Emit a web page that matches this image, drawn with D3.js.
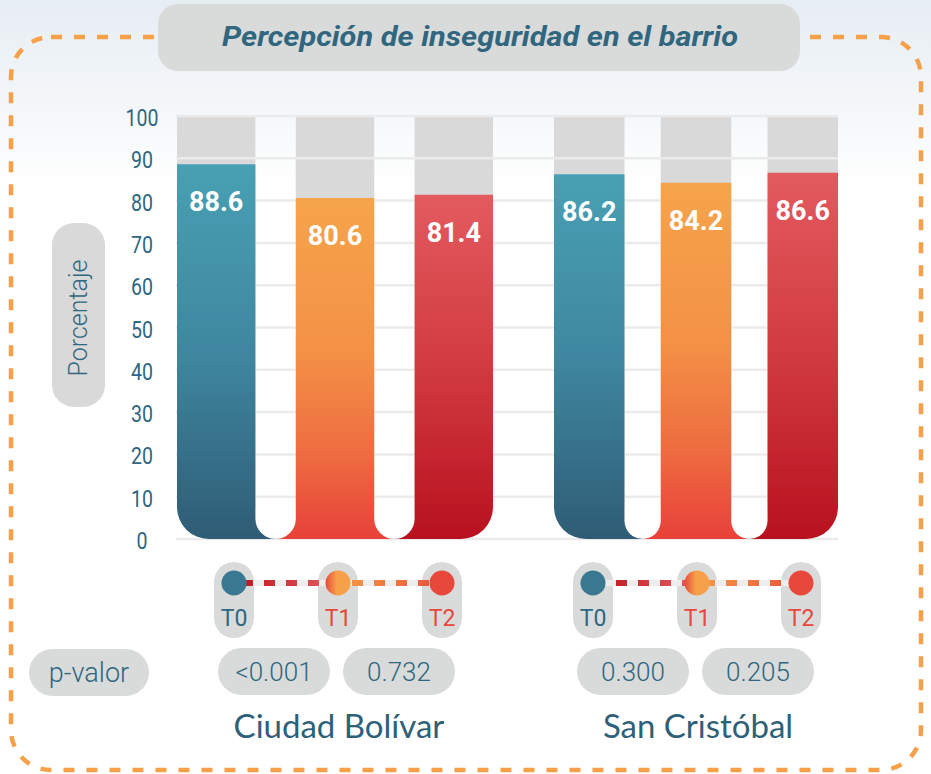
<!DOCTYPE html>
<html>
<head>
<meta charset="utf-8">
<script src="https://cdn.jsdelivr.net/npm/d3@7"></script>
<style>
  html, body { margin: 0; padding: 0; background: #fff; }
  svg { display: block; }
</style>
</head>
<body>
<div id="chart"></div>
<script>
// data
let groups = ["Ciudad Bolívar", "San Cristóbal"];
let periods = ["T0", "T1", "T2"];
let valuesBolivar = [88.6, 80.6, 81.4];
let valuesCristobal = [86.2, 84.2, 86.6];
let pBolivar = ["<0.001", "0.732"];
let pCristobal = ["0.300", "0.205"];
let yTicks = [0, 10, 20, 30, 40, 50, 60, 70, 80, 90, 100];

let title_text = "Percepción de inseguridad en el barrio";
let yLabel = "Porcentaje";

let width = 931, height = 774;
let dark = "#2f6680";
let red = "#e8473b";

let svg = d3.select("#chart").append("svg")
  .attr("width", width)
  .attr("height", height);

let defs = svg.append("defs");

function linGrad(id, stops, horizontal) {
  let g = defs.append("linearGradient").attr("id", id)
    .attr("x1", 0).attr("y1", 0)
    .attr("x2", horizontal ? 1 : 0).attr("y2", horizontal ? 0 : 1);
  stops.forEach(s => g.append("stop").attr("offset", s[0]).attr("stop-color", s[1]));
}

linGrad("bg", [[0, "#e6edf3"], [1, "#ffffff"]]);
linGrad("gT0", [[0, "#48a0b3"], [0.5, "#3f87a0"], [1, "#2f5c75"]]);
linGrad("gT1", [[0, "#f6a44b"], [0.45, "#f39146"], [0.75, "#ee6c40"], [1, "#e8403a"]]);
linGrad("gT2", [[0, "#e35b5f"], [0.5, "#d13a40"], [1, "#b8111f"]]);
linGrad("lineL", [[0, "#c01b26"], [1, "#e0565b"]], true);
linGrad("lineR", [[0, "#f39447"], [1, "#ea5a3c"]], true);
linGrad("dotT1", [[0, "#e84a3c"], [0.45, "#f6a04a"], [1, "#f6a04a"]], true);

// background
svg.append("rect")
  .attr("width", width).attr("height", 190)
  .attr("fill", "url(#bg)");

// dashed frame
svg.append("rect")
  .attr("x", 11).attr("y", 37)
  .attr("width", 910).attr("height", 733)
  .attr("rx", 40)
  .attr("fill", "none")
  .attr("stroke", "#f6a04a")
  .attr("stroke-width", 4.5)
  .attr("stroke-dasharray", "11,12");

// title
svg.append("rect")
  .attr("x", 158).attr("y", 4)
  .attr("width", 642).attr("height", 67)
  .attr("rx", 20)
  .attr("fill", "#d9dbda");

svg.append("text")
  .attr("x", 480).attr("y", 46)
  .attr("text-anchor", "middle")
  .attr("textLength", 516)
  .attr("lengthAdjust", "spacingAndGlyphs")
  .style("font-family", "Roboto, sans-serif")
  .style("font-weight", 700)
  .style("font-style", "italic")
  .style("font-size", "28px")
  .attr("fill", "#31667f")
  .text(title_text);

// scales
let y = d3.scaleLinear().domain([0, 100]).range([539, 116]);
let base = y(0);

// each group has its own horizontal extent in the picture
let groupExtent = { "Ciudad Bolívar": [177, 493], "San Cristóbal": [554, 838] };
let groupValues = { "Ciudad Bolívar": valuesBolivar, "San Cristóbal": valuesCristobal };
let groupP = { "Ciudad Bolívar": pBolivar, "San Cristóbal": pCristobal };
// centre of the annotation rows under each group
let annX = d3.scalePoint().domain(groups).range([339, 698]);

// y axis labels
let yAxis = svg.append("g");
yAxis.selectAll("text")
  .data(yTicks)
  .join("text")
  .attr("transform", d => `translate(142,${y(d) + 10}) scale(0.85,1)`)
  .attr("text-anchor", "middle")
  .style("font-family", "Roboto, sans-serif")
  .style("font-size", "23px")
  .attr("fill", dark)
  .text(d => d);

// y label
svg.append("rect")
  .attr("x", 52).attr("y", 223)
  .attr("width", 53).attr("height", 184)
  .attr("rx", 22)
  .attr("fill", "#d9d9d9");
svg.append("text")
  .attr("transform", "translate(87,318) rotate(-90)")
  .attr("text-anchor", "middle")
  .style("font-family", "Roboto, sans-serif")
  .style("font-weight", 300)
  .style("font-size", "25px")
  .attr("fill", dark)
  .text(yLabel);

function barPath(x0, x1, t, b, first, last, R, r) {
  let p = `M${x0},${t}H${x1}`;
  if (last) p += `V${b - R}A${R},${R} 0 0 1 ${x1 - R},${b}`;
  else p += `V${b - r}A${r},${r} 0 0 0 ${x1 + r},${b}`;
  if (first) p += `H${x0 + R}A${R},${R} 0 0 1 ${x0},${b - R}`;
  else p += `H${x0 - r}A${r},${r} 0 0 0 ${x0},${b - r}`;
  return p + "Z";
}

let R = 32;
let bgLayer = svg.append("g");
let gridLayer = svg.append("g");
let barLayer = svg.append("g");

groups.forEach(grp => {
  let x = d3.scaleBand().domain(periods).range(groupExtent[grp]).paddingInner(0.34).paddingOuter(0);
  let bw = x.bandwidth();
  let r = (x.step() - bw) / 2;
  let vals = groupValues[grp];

  bgLayer.selectAll(null)
    .data(periods)
    .join("rect")
    .attr("x", d => x(d))
    .attr("y", y(100))
    .attr("width", bw)
    .attr("height", base - R - y(100))
    .attr("fill", "#d9d9d9");

  barLayer.selectAll(null)
    .data(periods)
    .join("path")
    .attr("d", (d, i) => barPath(x(d), x(d) + bw, y(vals[i]), base, i === 0, i === periods.length - 1, R, r))
    .attr("fill", d => `url(#g${d})`);

  barLayer.selectAll(null)
    .data(periods)
    .join("text")
    .attr("x", d => x(d) + bw / 2)
    .attr("y", (d, i) => y(vals[i]) + 47)
    .attr("text-anchor", "middle")
    .style("font-family", "Roboto, sans-serif")
    .style("font-weight", 700)
    .style("font-size", "27px")
    .attr("fill", "#fff")
    .text((d, i) => vals[i].toFixed(1));

  // annotation rows
  let c = annX(grp);
  let px = d3.scalePoint().domain(periods).range([c - 105, c + 103]);
  let ann = svg.append("g");

  ann.selectAll("rect.pill")
    .data(periods)
    .join("rect")
    .attr("class", "pill")
    .attr("x", d => px(d) - 20)
    .attr("y", 562)
    .attr("width", 40)
    .attr("height", 76)
    .attr("rx", 20)
    .attr("fill", "#d9dbda");

  // connectors
  let segs = [["T0", "T1", "lineL"], ["T1", "T2", "lineR"]];
  segs.forEach(s => {
    ann.append("line")
      .attr("x1", px(s[0])).attr("x2", px(s[1]))
      .attr("y1", 583).attr("y2", 583)
      .attr("stroke", "#ededed")
      .attr("stroke-width", 6);
    ann.append("rect")
      .attr("x", px(s[0]) + 12).attr("y", 580)
      .attr("width", px(s[1]) - px(s[0]) - 24).attr("height", 6)
      .attr("fill", `url(#${s[2]})`)
      .attr("mask", "url(#dashMask)");
  });

  ann.selectAll("circle")
    .data(periods)
    .join("circle")
    .attr("cx", d => px(d))
    .attr("cy", 583)
    .attr("r", 12.5)
    .attr("fill", d => d === "T0" ? "#3a7891" : d === "T1" ? "url(#dotT1)" : red);

  ann.selectAll("text.per")
    .data(periods)
    .join("text")
    .attr("class", "per")
    .attr("x", d => px(d))
    .attr("y", 626)
    .attr("text-anchor", "middle")
    .style("font-family", "Roboto, sans-serif")
    .style("font-weight", 400)
    .style("font-size", "23px")
    .attr("fill", d => d === "T0" ? dark : red)
    .text(d => d);

  // p-values
  let pOff = [-65, 60];
  ann.selectAll("rect.pv")
    .data(groupP[grp])
    .join("rect")
    .attr("class", "pv")
    .attr("x", (d, i) => c + pOff[i] - 56)
    .attr("y", 648)
    .attr("width", 112)
    .attr("height", 47)
    .attr("rx", 23.5)
    .attr("fill", "#d9dbda");
  ann.selectAll("text.pv")
    .data(groupP[grp])
    .join("text")
    .attr("class", "pv")
    .attr("x", (d, i) => c + pOff[i])
    .attr("y", 681)
    .attr("text-anchor", "middle")
    .style("font-family", "Roboto, sans-serif")
    .style("font-weight", 300)
    .style("font-size", "26px")
    .attr("fill", dark)
    .text(d => d);

  ann.append("text")
    .attr("x", c)
    .attr("y", 738)
    .attr("text-anchor", "middle")
    .style("font-family", "Lato, sans-serif")
    .style("font-size", "33px")
    .attr("fill", "#2e6079")
    .text(grp);
});

// dash mask for the connectors
let mask = defs.append("mask").attr("id", "dashMask").attr("maskUnits", "userSpaceOnUse")
  .attr("x", 0).attr("y", 0).attr("width", width).attr("height", height);
mask.append("line")
  .attr("x1", 0).attr("x2", width)
  .attr("y1", 583).attr("y2", 583)
  .attr("stroke", "#fff")
  .attr("stroke-width", 8)
  .attr("stroke-dasharray", "11,11");

// gridlines
gridLayer.selectAll("line")
  .data(yTicks)
  .join("line")
  .attr("x1", 176).attr("x2", 838)
  .attr("y1", d => y(d)).attr("y2", d => y(d))
  .attr("stroke", "#ebebeb")
  .attr("stroke-width", 2.5);

// p-valor label
svg.append("rect")
  .attr("x", 29).attr("y", 649)
  .attr("width", 120).attr("height", 47)
  .attr("rx", 23.5)
  .attr("fill", "#d9dbda");
svg.append("text")
  .attr("x", 89).attr("y", 682)
  .attr("text-anchor", "middle")
  .style("font-family", "Roboto, sans-serif")
  .style("font-weight", 300)
  .style("font-size", "27px")
  .attr("fill", dark)
  .text("p-valor");
</script>
</body>
</html>
